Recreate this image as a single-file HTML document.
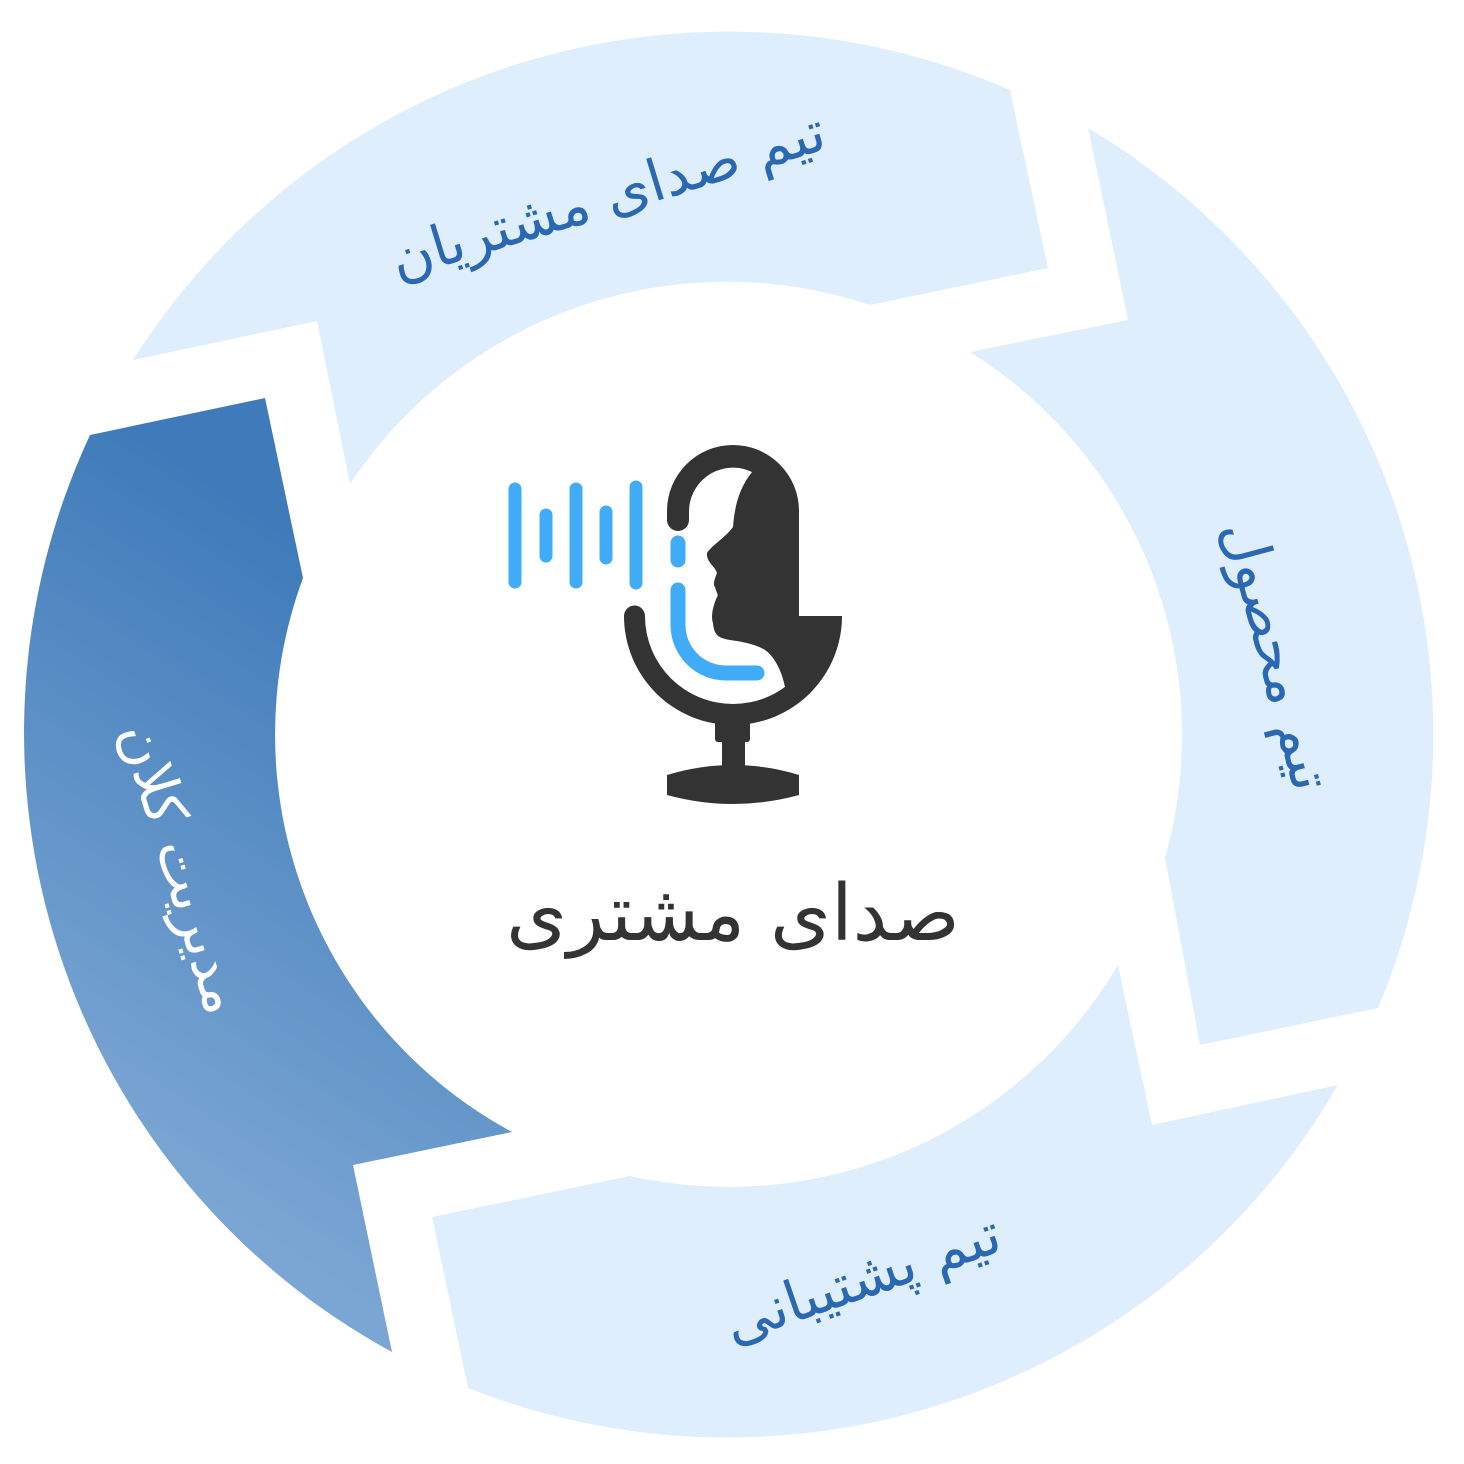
<!DOCTYPE html>
<html><head><meta charset="utf-8"><style>
html,body{margin:0;padding:0;background:#fff;}
svg{display:block;}
text{font-family:"DejaVu Sans","Liberation Sans",sans-serif;}
</style></head><body>
<svg width="1464" height="1464" viewBox="0 0 1464 1464" xmlns="http://www.w3.org/2000/svg">
<defs>
<linearGradient id="g" gradientUnits="userSpaceOnUse" x1="90" y1="1130" x2="420" y2="620">
<stop offset="0" stop-color="#7ba6d3"/><stop offset="1" stop-color="#3f7bba"/>
</linearGradient>
</defs>
<path d="M133,360 L317,321 L350,484 A452,452 0 0 1 870,305 L1048,268 L1010,90 A705,705 0 0 0 133,360 Z" fill="#dfeefd"/>
<path d="M1088,128 L1128,320 L970,352 A452,452 0 0 1 1165,858 L1200,1045 L1378,1008 A705,705 0 0 0 1088,128 Z" fill="#dfeefd"/>
<path d="M1338,1085 L1152,1125 L1118,965 A452,452 0 0 1 630,1176 L432,1217 L468,1388 A705,705 0 0 0 1338,1085 Z" fill="#dfeefd"/>
<path d="M392,1352 L353,1165 L512,1132 A452,452 0 0 1 303,578 L265,398 L90,435 A705,705 0 0 0 392,1352 Z" fill="url(#g)"/>

<text x="608" y="215" font-size="57" fill="#2a68b3" text-anchor="middle" direction="rtl" transform="rotate(-17 608 197)">تیم صدای مشتریان</text>
<text x="1278" y="675" font-size="57" fill="#2a68b3" text-anchor="middle" direction="rtl" transform="rotate(75 1278 655)">تیم محصول</text>
<text x="862" y="1298" font-size="57" fill="#2a68b3" text-anchor="middle" direction="rtl" transform="rotate(-19 862 1278)">تیم پشتیبانی</text>
<text x="183" y="888" font-size="57" fill="#ffffff" text-anchor="middle" direction="rtl" transform="rotate(73 183 868)">مدیریت کلان</text>

<g stroke="#40acf7" stroke-width="13" stroke-linecap="round" fill="none">
<line x1="515" y1="489" x2="515" y2="582"/>
<line x1="546" y1="515" x2="546" y2="556"/>
<line x1="576" y1="489" x2="576" y2="582"/>
<line x1="606" y1="512" x2="606" y2="558"/>
<line x1="636" y1="487" x2="636" y2="583"/>
<line x1="678" y1="543" x2="678" y2="560" stroke-width="15"/>
<path d="M678,590 L678,625 A48,48 0 0 0 726,673 L757,673" stroke-width="15"/>
</g>
<path d="M752,472 C742,485 735,500 733,527 C725,538 712,545 707,553 C706,562 715,566 717,573 C714,580 713,585 715,587 C716,592 719,595 717,597 C712,608 711,618 713,623 C714,635 718,638 730,640 C745,642 757,645 765,650 C775,657 782,672 785,687 L790,698 A100,100 0 0 0 833,616 L799,616 L799,511 A66,66 0 0 0 667,511 L667,520 A11,11 0 0 0 689,520 L689,511 A44,44 0 0 1 752,472 Z" fill="#333"/>
<path d="M624,616 A109,109 0 0 0 842,616 L821,616 A88,88 0 0 1 645,616 Z" fill="#333"/>
<circle cx="634.5" cy="616" r="10.5" fill="#333"/>
<rect x="715" y="718" width="35" height="24" rx="3" fill="#333"/>
<rect x="722" y="738" width="23" height="30" fill="#333"/>
<path d="M667,775 Q733,755 799,775 L799,795 Q733,813 667,795 Z" fill="#333"/>

<text x="733" y="940" font-size="78" fill="#333" text-anchor="middle" direction="rtl">صدای مشتری</text>
</svg>
</body></html>
